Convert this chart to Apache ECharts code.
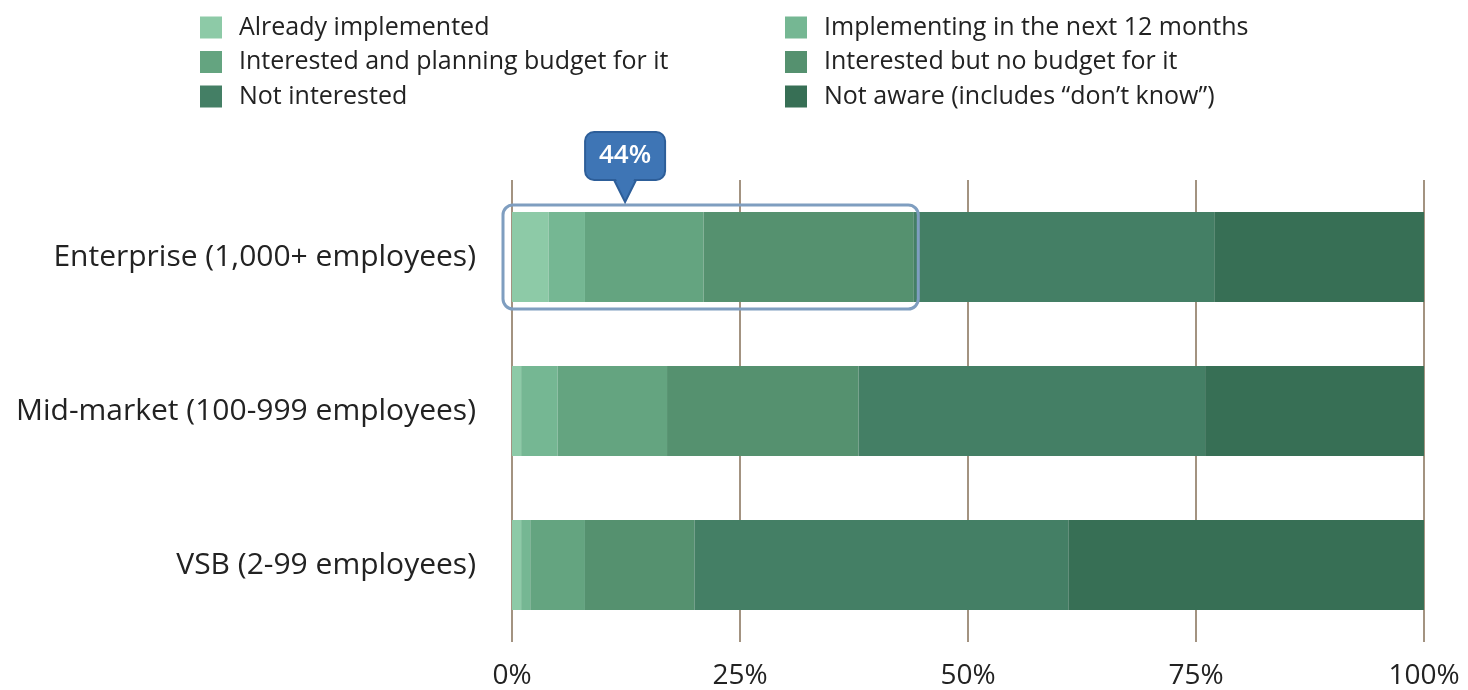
<!DOCTYPE html>
<html>
<head>
<meta charset="utf-8">
<script src="https://cdn.jsdelivr.net/npm/echarts@6/dist/echarts.min.js"></script>
<style>
  html, body { margin: 0; padding: 0; background: #ffffff; }
  #chart { width: 1468px; height: 690px; }
</style>
</head>
<body>
<div id="chart"></div>
<script>
// Company-size segments, top to bottom
const categories = [
  'Enterprise (1,000+ employees)',
  'Mid-market (100-999 employees)',
  'VSB (2-99 employees)'
];

// Adoption stages (stack order, left to right)
const stageNames = [
  'Already implemented',
  'Implementing in the next 12 months',
  'Interested and planning budget for it',
  'Interested but no budget for it',
  'Not interested',
  'Not aware (includes \u201cdon\u2019t know\u201d)'
];

// Share of respondents (%) per stage, one value per segment
const alreadyImplemented   = [4, 1, 1];
const implementingNext12   = [4, 4, 1];
const interestedPlanning   = [13, 12, 6];
const interestedNoBudget   = [23, 21, 12];
const notInterested        = [33, 38, 41];
const notAware             = [23, 24, 39];

// X-axis tick labels
const tickLabels = ['0%', '25%', '50%', '75%', '100%'];

const stageValues = [
  alreadyImplemented, implementingNext12, interestedPlanning,
  interestedNoBudget, notInterested, notAware
];
const stageColors = ['#8dcaa7', '#75b793', '#64a480', '#55916f', '#447f65', '#376f55'];

const FONT = '"Open Sans", "Noto Sans", sans-serif';

const chart = echarts.init(document.getElementById('chart'), null, { renderer: 'canvas' });

const legendBase = {
  orient: 'vertical',
  top: 10,
  itemWidth: 22,
  itemHeight: 22,
  itemGap: 9.5,
  icon: 'rect',
  selectedMode: false,
  textStyle: {
    fontFamily: FONT,
    fontSize: 25,
    color: '#222222',
    lineHeight: 22,
    padding: [0, 0, 0, 12]
  }
};

const option = {
  animation: false,
  backgroundColor: '#ffffff',
  color: stageColors,
  legend: [
    Object.assign({}, legendBase, { left: 195, data: [stageNames[0], stageNames[2], stageNames[4]] }),
    Object.assign({}, legendBase, { left: 780, data: [stageNames[1], stageNames[3], stageNames[5]] })
  ],
  grid: { left: 512, right: 44, top: 180, bottom: 48, containLabel: false },
  xAxis: {
    type: 'value',
    min: 0,
    max: 100,
    interval: 25,
    axisLine: { show: false },
    axisTick: { show: false },
    splitLine: { show: true, lineStyle: { color: '#a39381', width: 2 } },
    axisLabel: {
      margin: 20,
      fontFamily: FONT,
      fontSize: 28,
      color: '#222222',
      formatter: function (v) { return tickLabels[Math.round(v / 25)]; }
    }
  },
  yAxis: {
    type: 'category',
    inverse: true,
    data: categories,
    axisLine: { show: false },
    axisTick: { show: false },
    axisLabel: {
      margin: 36,
      fontFamily: FONT,
      fontSize: 30,
      color: '#222222'
    }
  },
  series: stageNames.map(function (name, i) {
    return {
      name: name,
      type: 'bar',
      stack: 'share',
      barWidth: 90,
      data: stageValues[i],
      itemStyle: { color: stageColors[i] },
      emphasis: { disabled: true }
    };
  })
};

chart.setOption(option);

// Callout around the "interested or further along" share of the first segment
const highlightShare = alreadyImplemented[0] + implementingNext12[0] +
                       interestedPlanning[0] + interestedNoBudget[0];
const pStart = chart.convertToPixel({ gridIndex: 0 }, [0, categories[0]]);
const pEnd = chart.convertToPixel({ gridIndex: 0 }, [highlightShare, categories[0]]);
const pTip = chart.convertToPixel({ gridIndex: 0 }, [12.4, categories[0]]);

const boxLeft = pStart[0] - 9;
const boxRight = pEnd[0] + 5;
const boxTop = pStart[1] - 52;
const boxBottom = pStart[1] + 52;
const tipX = pTip[0];
const tipY = boxTop - 3;
const bubbleW = 80, bubbleH = 48;
const bubbleBottom = tipY - 22;

chart.setOption({
  graphic: [
    {
      type: 'rect',
      shape: { x: boxLeft, y: boxTop, width: boxRight - boxLeft, height: boxBottom - boxTop, r: 10 },
      style: { fill: 'none', stroke: '#7f9ec0', lineWidth: 3 },
      z: 100
    },
    {
      type: 'polygon',
      shape: { points: [[tipX - 12, bubbleBottom - 2], [tipX + 12, bubbleBottom - 2], [tipX, tipY]] },
      style: { fill: '#3e75b5', stroke: '#2d5e99', lineWidth: 2 },
      z: 101
    },
    {
      type: 'rect',
      shape: { x: tipX - bubbleW / 2, y: bubbleBottom - bubbleH, width: bubbleW, height: bubbleH, r: 9 },
      style: { fill: '#3e75b5', stroke: '#2d5e99', lineWidth: 2 },
      z: 102
    },
    {
      type: 'polygon',
      shape: { points: [[tipX - 10, bubbleBottom - 3], [tipX + 10, bubbleBottom - 3], [tipX, tipY - 3]] },
      style: { fill: '#3e75b5' },
      z: 103
    },
    {
      type: 'text',
      x: tipX,
      y: bubbleBottom - bubbleH / 2,
      style: {
        text: highlightShare + '%',
        fill: '#ffffff',
        font: '600 26px ' + FONT,
        align: 'center',
        verticalAlign: 'middle'
      },
      z: 104
    }
  ]
});
</script>
</body>
</html>
